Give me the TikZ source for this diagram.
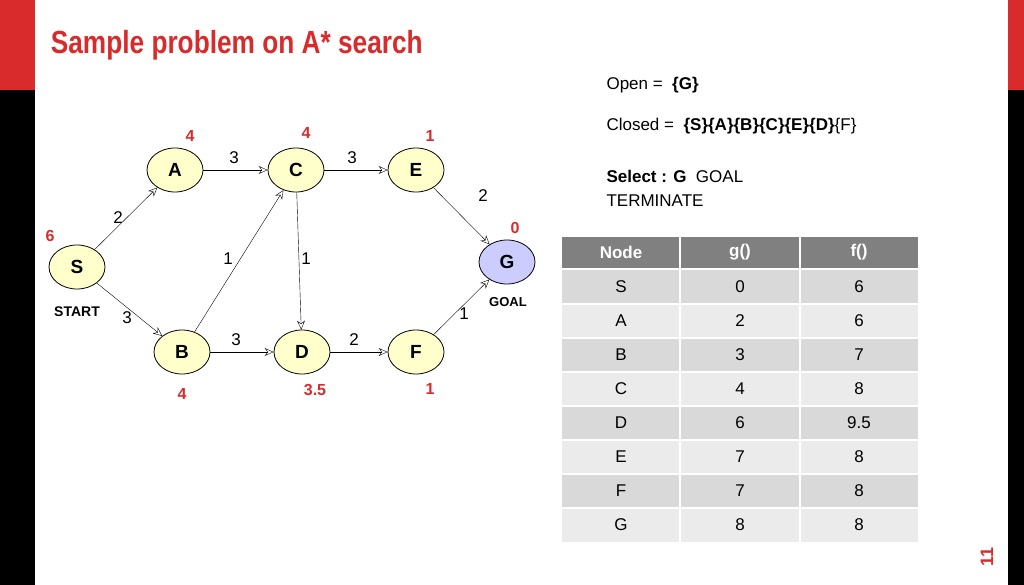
\documentclass[tikz,border=0pt]{standalone}
\usepackage{fontspec}
\setmainfont{Liberation Sans}
\usetikzlibrary{shapes.geometric,arrows.meta}
\definecolor{slidered}{HTML}{D92B2B}
\definecolor{nodeyel}{HTML}{FFFFCC}
\definecolor{goalblue}{HTML}{CCCCFF}
\definecolor{hdrgray}{HTML}{808080}
\definecolor{rowdark}{HTML}{D9D9D9}
\definecolor{rowlight}{HTML}{EBEBEB}
\begin{document}
\begin{tikzpicture}[x=1pt,y=-1pt,
    state/.style={ellipse, draw, thick, fill=nodeyel, minimum width=56pt,
      minimum height=44pt, inner sep=0pt, font=\fontsize{19}{19}\selectfont\bfseries},
    hval/.style={text=slidered, font=\fontsize{16}{16}\selectfont\bfseries},
    cost/.style={font=\fontsize{17}{17}\selectfont},
    cell/.style={font=\fontsize{17}{17}\selectfont}]
  \useasboundingbox (0,0) rectangle (1024,585);
  \fill[white] (0,0) rectangle (1024,585);
  % side bars
  \fill[slidered] (0,0) rectangle (35,90);
  \fill[black] (0,90) rectangle (35,585);
  \fill[slidered] (1008,0) rectangle (1024,90);
  \fill[black] (1008,90) rectangle (1024,585);
  \node[text=slidered, rotate=90, font=\fontsize{18}{18}\selectfont\bfseries] (pg) at (987,557) {11};
  \node[anchor=west, text=slidered, font=\fontsize{32}{32}\selectfont\bfseries, xscale=0.82] (title) at (48,45) {Sample problem on A* search};

  % graph
  \begin{scope}[every node/.style={state}]
    \node (S) at (77,267) {S};
    \node (A) at (175,170) {A};
    \node (C) at (296,170) {C};
    \node (E) at (416,170) {E};
    \node[fill=goalblue] (G) at (507,262) {G};
    \node (B) at (182,352) {B};
    \node (D) at (302,352) {D};
    \node (F) at (416,352) {F};
  \end{scope}
  \begin{scope}[->, >={Stealth[open,length=9pt,width=8pt]}, thin]
    \draw (S) -- (A); \draw (S) -- (B); \draw (A) -- (C);
    \draw (C) -- (E); \draw (B) -- (C); \draw (C) -- (D);
    \draw (B) -- (D); \draw (D) -- (F); \draw (E) -- (G);
    \draw (F) -- (G);
  \end{scope}
  \begin{scope}[every node/.style={cost}]
    \node (c1) at (118,218) {2}; \node (c2) at (127,318) {3};
    \node (c3) at (234,158) {3}; \node (c4) at (352,158) {3};
    \node (c5) at (228,259) {1}; \node (c6) at (306,259) {1};
    \node (c7) at (236,340) {3}; \node (c8) at (354,340) {2};
    \node (c9) at (483,196) {2}; \node (c10) at (464,314) {1};
  \end{scope}
  \begin{scope}[every node/.style={hval}]
    \node (hS) at (50,236) {6}; \node (hA) at (190,136) {4};
    \node (hC) at (306,133) {4}; \node (hE) at (430,136) {1};
    \node (hG) at (515,228) {0}; \node (hB) at (182,394) {4};
    \node (hD) at (315,390) {3.5}; \node (hF) at (430,389) {1};
  \end{scope}
  \node[font=\fontsize{14}{14}\selectfont\bfseries] (start) at (77,312) {START};
  \node[font=\fontsize{13}{13}\selectfont\bfseries] (goal) at (508,302) {GOAL};

  % lists
  \begin{scope}[every node/.style={anchor=west, font=\fontsize{17}{17}\selectfont}]
    \node (open) at (603,85) {Open = \ \textbf{\{G\}}};
    \node (closed) at (603,126) {Closed = \ \textbf{\{S\}\{A\}\{B\}\{C\}\{E\}\{D\}}\{F\}};
    \node (sel) at (603,176) {\textbf{Select : G}\ \ GOAL};
    \node (term) at (603,201) {TERMINATE};
  \end{scope}

  % table
  \fill[hdrgray] (562,237) rectangle (918,268);
  \foreach \i in {0,...,7} {
    \pgfmathsetmacro{\ya}{270+34*\i}
    \pgfmathsetmacro{\yb}{\ya+34}
    \ifodd\i \fill[rowlight] (562,\ya) rectangle (918,\yb);
    \else \fill[rowdark] (562,\ya) rectangle (918,\yb); \fi
  }
  \foreach \i in {1,...,7} \draw[white, line width=1.5pt] (562,270+34*\i) -- (918,270+34*\i);
  \draw[white, line width=1.5pt] (680,237) -- (680,543);
  \draw[white, line width=1.5pt] (800,237) -- (800,543);
  \begin{scope}[every node/.style={text=white, font=\fontsize{17}{17}\selectfont\bfseries}]
    \node (h1) at (621,252) {Node}; \node (h2) at (740,252) {g()}; \node (h3) at (859,252) {f()};
  \end{scope}
  \foreach \n/\g/\f [count=\i from 0] in {S/0/6, A/2/6, B/3/7, C/4/8, D/6/9.5, E/7/8, F/7/8, G/8/8} {
    \node[cell] (n\n) at (621,287+34*\i) {\n};
    \node[cell] (g\n) at (740,287+34*\i) {\g};
    \node[cell] (f\n) at (859,287+34*\i) {\f};
  }
\end{tikzpicture}
\end{document}
